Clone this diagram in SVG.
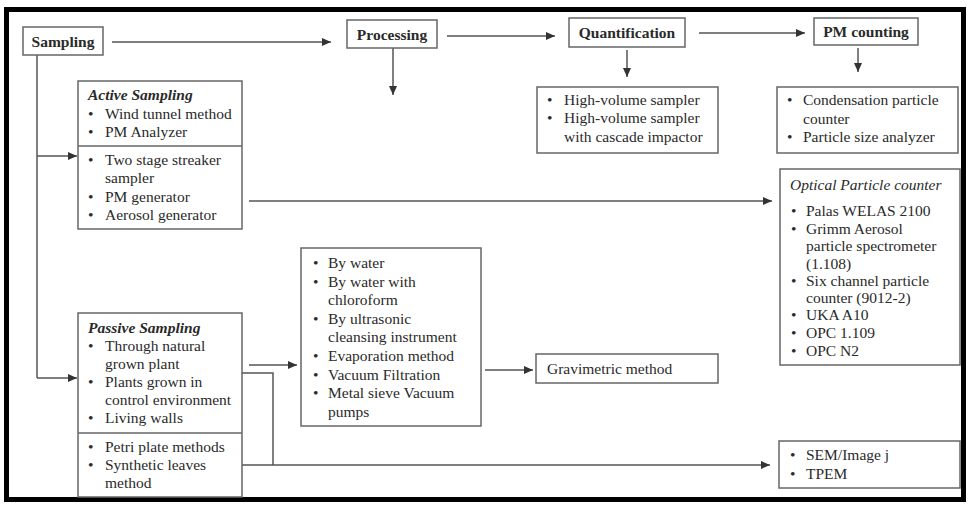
<svg xmlns="http://www.w3.org/2000/svg" width="969" height="507" viewBox="0 0 969 507">
<defs>
<marker id="ah" markerUnits="userSpaceOnUse" markerWidth="10" markerHeight="8" refX="9" refY="4" orient="auto">
<path d="M0,0 L9,4 L0,8 Z" fill="#333"/>
</marker>
<style>
text{font-family:"Liberation Serif","Times New Roman",serif;font-size:15.5px;fill:#2a2a2a}
.b{font-weight:bold}
.bi{font-weight:bold;font-style:italic}
.i{font-style:italic}
.box{fill:#fff;stroke:#666;stroke-width:1.5}
.ln{fill:none;stroke:#555;stroke-width:1.5}
.ar{fill:none;stroke:#555;stroke-width:1.5;marker-end:url(#ah)}
.mid{text-anchor:middle}
</style>
</defs>
<rect x="0" y="0" width="969" height="507" fill="#fff"/>
<rect x="6.5" y="9.5" width="957" height="490" fill="none" stroke="#000" stroke-width="5"/>

<g id="connectors">
<path class="ar" d="M112,42 H331"/>
<path class="ar" d="M447,36 H555"/>
<path class="ar" d="M699,33 H805"/>
<path class="ar" d="M393,48 V95"/>
<path class="ar" d="M627,50 V77"/>
<path class="ar" d="M858,48 V72"/>
<path class="ln" d="M37,55 V378"/>
<path class="ar" d="M37,378 H77"/>
<path class="ar" d="M37,156 H77"/>
<path class="ar" d="M249,201 H772"/>
<path class="ar" d="M249,365 H297"/>
<path class="ln" d="M242,373 H273 V465"/>
<path class="ar" d="M242,465 H770"/>
<path class="ar" d="M485,370 H533"/>
</g>

<g id="sampling">
<rect class="box" x="23" y="27" width="80" height="28"/>
<text class="b mid" x="63" y="47">Sampling</text>
</g>
<g id="processing">
<rect class="box" x="347" y="20" width="90" height="28"/>
<text class="b mid" x="392" y="40">Processing</text>
</g>
<g id="quantification">
<rect class="box" x="569" y="18" width="116" height="29"/>
<text class="b mid" x="627" y="38">Quantification</text>
</g>
<g id="pm-counting">
<rect class="box" x="814" y="18" width="104" height="27"/>
<text class="b mid" x="866" y="37">PM counting</text>
</g>

<g id="active-sampling">
<rect class="box" x="78" y="81" width="164" height="148"/>
<line class="ln" x1="78" y1="146" x2="242" y2="146" style="stroke:#666"/>
<text class="bi" x="88" y="100">Active Sampling</text>
<text x="88" y="119">•</text><text x="105" y="119">Wind tunnel method</text>
<text x="88" y="137">•</text><text x="105" y="137">PM Analyzer</text>
<text x="88" y="165">•</text><text x="105" y="165">Two stage streaker</text>
<text x="105" y="183">sampler</text>
<text x="88" y="202">•</text><text x="105" y="202">PM generator</text>
<text x="88" y="220">•</text><text x="105" y="220">Aerosol generator</text>
</g>

<g id="passive-sampling">
<rect class="box" x="78" y="313" width="164" height="184"/>
<line class="ln" x1="78" y1="433" x2="242" y2="433" style="stroke:#666"/>
<text class="bi" x="88" y="333">Passive Sampling</text>
<text x="88" y="351">•</text><text x="105" y="351">Through natural</text>
<text x="105" y="369">grown plant</text>
<text x="88" y="387">•</text><text x="105" y="387">Plants grown in</text>
<text x="105" y="405">control environment</text>
<text x="88" y="423">•</text><text x="105" y="423">Living walls</text>
<text x="88" y="452">•</text><text x="105" y="452">Petri plate methods</text>
<text x="88" y="470">•</text><text x="105" y="470">Synthetic leaves</text>
<text x="105" y="488">method</text>
</g>

<g id="processing-methods">
<rect class="box" x="301" y="248" width="180" height="178"/>
<text x="313" y="268">•</text><text x="328" y="268">By water</text>
<text x="313" y="287">•</text><text x="328" y="287">By water with</text>
<text x="328" y="305">chloroform</text>
<text x="313" y="324">•</text><text x="328" y="324">By ultrasonic</text>
<text x="328" y="342">cleansing instrument</text>
<text x="313" y="361">•</text><text x="328" y="361">Evaporation method</text>
<text x="313" y="380">•</text><text x="328" y="380">Vacuum Filtration</text>
<text x="313" y="398">•</text><text x="328" y="398">Metal sieve Vacuum</text>
<text x="328" y="417">pumps</text>
</g>

<g id="quantification-methods">
<rect class="box" x="537" y="87" width="181" height="66"/>
<text x="547" y="105">•</text><text x="564" y="105">High-volume sampler</text>
<text x="547" y="123">•</text><text x="564" y="123">High-volume sampler</text>
<text x="564" y="142">with cascade impactor</text>
</g>

<g id="pm-counting-methods">
<rect class="box" x="777" y="87" width="181" height="66"/>
<text x="787" y="105">•</text><text x="803" y="105">Condensation particle</text>
<text x="803" y="124">counter</text>
<text x="787" y="142">•</text><text x="803" y="142">Particle size analyzer</text>
</g>

<g id="optical-particle-counter">
<rect class="box" x="780" y="169" width="180" height="196"/>
<text class="i" x="790" y="190">Optical Particle counter</text>
<text x="791" y="216">•</text><text x="806" y="216">Palas WELAS 2100</text>
<text x="791" y="233.5">•</text><text x="806" y="233.5">Grimm Aerosol</text>
<text x="806" y="251">particle spectrometer</text>
<text x="806" y="268.5">(1.108)</text>
<text x="791" y="286">•</text><text x="806" y="286">Six channel particle</text>
<text x="806" y="303">counter (9012-2)</text>
<text x="791" y="320">•</text><text x="806" y="320">UKA A10</text>
<text x="791" y="338">•</text><text x="806" y="338">OPC 1.109</text>
<text x="791" y="356">•</text><text x="806" y="356">OPC N2</text>
</g>

<g id="gravimetric">
<rect class="box" x="536" y="354" width="182" height="29"/>
<text x="547" y="374">Gravimetric method</text>
</g>

<g id="microscopy">
<rect class="box" x="779" y="441" width="181" height="47"/>
<text x="790" y="460">•</text><text x="806" y="460">SEM/Image j</text>
<text x="790" y="479">•</text><text x="806" y="479">TPEM</text>
</g>
</svg>
